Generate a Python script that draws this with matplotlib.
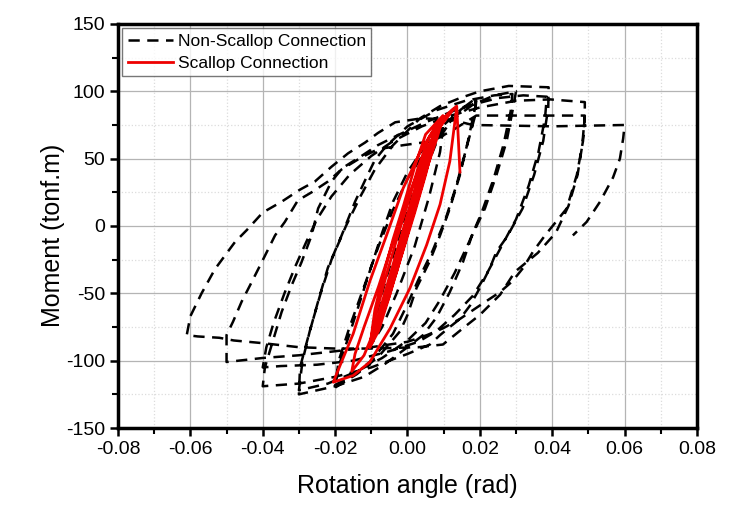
import matplotlib.pyplot as plt
from matplotlib.ticker import MultipleLocator, FormatStrFormatter

plt.rcParams['font.family'] = ['Liberation Sans', 'DejaVu Sans']
plt.rcParams['axes.unicode_minus'] = False

# Non-scallop connection, branch by branch (rotation rad, moment tonf.m)
ns_01_up = [(0.0, 0), (0.004, 35), (0.008, 62), (0.010, 76)]
ns_01_dn = [(0.010, 76), (0.009, 55), (0.006, 22), (0.002, -15), (-0.003, -50), (-0.007, -75), (-0.010, -88)]
ns_02_up1 = [(-0.010, -88), (-0.009, -70), (-0.006, -40), (-0.002, -5), (0.002, 28), (0.007, 58), (0.012, 78),
             (0.016, 89), (0.019, 95)]
ns_02_dn1 = [(0.019, 95), (0.0187, 88), (0.0167, 63), (0.0145, 38), (0.0117, 13), (0.009, -7), (0.006, -27),
             (0.0025, -46), (0.0, -66), (-0.002, -78), (-0.008, -97), (-0.014, -110), (-0.020, -120)]
ns_02_up2 = [(-0.020, -120), (-0.019, -104), (-0.016, -80), (-0.013, -55), (-0.010, -30), (-0.007, -5),
             (-0.004, 18), (0.0, 40), (0.005, 60), (0.010, 75), (0.015, 87), (0.019, 93)]
ns_02_dn2 = [(0.019, 93), (0.0185, 80), (0.016, 55), (0.0135, 30), (0.0105, 5), (0.007, -18), (0.003, -40),
             (0.0, -58), (-0.004, -80), (-0.010, -100), (-0.015, -111), (-0.020, -118)]
ns_03_up1 = [(-0.020, -118), (-0.019, -100), (-0.016, -75), (-0.012, -45), (-0.008, -15), (-0.004, 12),
             (0.0, 35), (0.006, 60), (0.012, 78), (0.018, 90), (0.024, 97), (0.030, 100)]
ns_03_dn1 = [(0.030, 100), (0.0292, 88), (0.0274, 63), (0.0246, 38), (0.0214, 13), (0.0177, -8), (0.0153, -27),
             (0.0117, -49), (0.008, -68), (0.0043, -81), (0.0, -90), (-0.006, -102), (-0.012, -112),
             (-0.020, -119), (-0.030, -125)]
ns_03_up2 = [(-0.030, -125), (-0.0297, -105), (-0.0275, -83), (-0.0247, -56), (-0.022, -31), (-0.0182, -7),
             (-0.0145, 18), (-0.011, 38), (-0.009, 49), (-0.006, 59), (0.0, 74), (0.008, 86), (0.016, 93),
             (0.024, 97), (0.029, 98)]
ns_03_dn2 = [(0.029, 98), (0.0285, 85), (0.0265, 60), (0.0238, 35), (0.0205, 10), (0.017, -12), (0.013, -35),
             (0.009, -55), (0.005, -72), (0.0, -85), (-0.007, -98), (-0.014, -108), (-0.022, -117),
             (-0.030, -122)]
ns_04_up1 = [(-0.030, -122), (-0.029, -100), (-0.027, -78), (-0.024, -50), (-0.021, -25), (-0.017, 0),
             (-0.013, 22), (-0.009, 42), (-0.004, 60), (0.0035, 80), (0.009, 89), (0.0145, 95), (0.020, 100),
             (0.028, 104), (0.039, 103)]
ns_04_dn1 = [(0.039, 103), (0.0389, 88), (0.0375, 63), (0.035, 38), (0.0318, 13), (0.0275, -8), (0.0246, -19),
             (0.0228, -31), (0.020, -46), (0.0173, -59), (0.0145, -69), (0.0117, -75), (0.009, -81),
             (0.0062, -88), (0.0, -95), (-0.010, -105), (-0.020, -112), (-0.030, -117), (-0.040, -119)]
ns_04_up2 = [(-0.040, -119), (-0.0394, -105), (-0.0375, -88), (-0.0348, -64), (-0.032, -44), (-0.0293, -27),
             (-0.0265, -7), (-0.0247, 13), (-0.021, 33), (-0.018, 43), (-0.0127, 52), (-0.0082, 60),
             (-0.003, 67), (0.005, 77), (0.015, 88), (0.025, 95), (0.032, 97), (0.0385, 96)]
ns_04_dn2 = [(0.0385, 96), (0.038, 80), (0.0362, 55), (0.0335, 30), (0.030, 5), (0.026, -15), (0.022, -35),
             (0.018, -52), (0.013, -66), (0.008, -78), (0.003, -86), (-0.005, -93), (-0.015, -100),
             (-0.025, -103), (-0.035, -104), (-0.040, -105)]
ns_05_up1 = [(-0.040, -105), (-0.039, -90), (-0.037, -72), (-0.034, -50), (-0.031, -30), (-0.028, -12),
             (-0.025, 5), (-0.021, 22), (-0.016, 38), (-0.010, 52), (-0.004, 63), (0.004, 74), (0.012, 82),
             (0.020, 88), (0.030, 93), (0.0394, 94), (0.049, 92)]
ns_05_dn1 = [(0.049, 92), (0.049, 82), (0.0485, 63), (0.0468, 38), (0.044, 13), (0.038, -7), (0.0347, -19),
             (0.032, -31), (0.029, -41), (0.0256, -49), (0.020, -59), (0.0145, -69), (0.0098, -76),
             (0.0054, -81), (0.0, -86), (-0.010, -90), (-0.020, -93), (-0.030, -96), (-0.040, -98),
             (-0.050, -101)]
ns_05_up2 = [(-0.050, -101), (-0.050, -81), (-0.0482, -71), (-0.0458, -56), (-0.0435, -44), (-0.0403, -27),
             (-0.0366, -7), (-0.0339, 3), (-0.0303, 19), (-0.0265, 25), (-0.022, 33), (-0.0182, 42),
             (-0.0127, 51), (-0.0082, 57), (-0.0012, 60), (0.007, 63), (0.013, 72), (0.019, 82),
             (0.035, 82), (0.049, 82)]
ns_05_dn2 = [(0.049, 82), (0.0483, 60), (0.047, 38), (0.0445, 15), (0.041, -5), (0.036, -20), (0.0297, -34),
             (0.0256, -51), (0.020, -66), (0.0153, -76), (0.0098, -88), (0.003, -90), (-0.010, -91),
             (-0.020, -91), (-0.030, -90), (-0.040, -87), (-0.048, -85), (-0.052, -83), (-0.058, -82),
             (-0.061, -81)]
ns_06_up = [(-0.061, -81), (-0.060, -67), (-0.0569, -50), (-0.0532, -32), (-0.0477, -12), (-0.0444, -3),
            (-0.040, 10), (-0.0348, 18), (-0.0297, 27), (-0.0256, 33), (-0.021, 44), (-0.0164, 54),
            (-0.0117, 62), (-0.0082, 69), (-0.0034, 77), (0.004, 80), (0.012, 79), (0.018, 75),
            (0.040, 74), (0.060, 75)]
ns_06_dn = [(0.060, 75), (0.0596, 65), (0.0587, 50), (0.0568, 36), (0.0532, 18), (0.0495, 3), (0.0457, -7)]

# Scallop connection
sc_a = [(0.0, 0), (0.002, 18), (0.0038, 33), (0.002, 14), (0.0, -6), (-0.002, -24), (-0.0038, -38),
        (-0.002, -22), (0.0, -2), (0.002, 16), (0.0038, 33)]
sc_b = [(0.0038, 33), (0.005, 44), (0.003, 25), (0.0, -5), (-0.003, -32), (-0.005, -50), (-0.003, -34),
        (0.0, -6), (0.003, 24), (0.005, 44), (0.003, 25), (0.0, -4), (-0.003, -30), (-0.005, -48)]
sc_c = [(-0.005, -48), (-0.003, -32), (0.0, -6), (0.004, 30), (0.0075, 63), (0.005, 42), (0.002, 14),
        (-0.002, -22), (-0.005, -48), (-0.0078, -72), (-0.005, -52), (-0.002, -25), (0.002, 10),
        (0.005, 38), (0.0075, 64), (0.005, 44), (0.001, 8), (-0.003, -30), (-0.0078, -72)]
sc_d = [(-0.0078, -72), (-0.005, -48), (-0.002, -18), (0.001, 10), (0.004, 38), (0.007, 62), (0.0098, 80),
        (0.007, 66), (0.004, 44), (0.001, 16), (-0.002, -10), (-0.005, -38), (-0.008, -66), (-0.0104, -90),
        (-0.008, -78), (-0.005, -52), (-0.002, -22), (0.001, 8), (0.004, 36), (0.007, 60), (0.0098, 80),
        (0.006, 66), (0.003, 44), (0.0, 16), (-0.003, -10), (-0.006, -38), (-0.009, -68), (-0.0105, -90),
        (-0.009, -78), (-0.006, -52), (-0.003, -22), (0.0, 8), (0.003, 36), (0.006, 60), (0.0098, 82),
        (0.005, 68), (0.002, 44), (-0.001, 16), (-0.004, -10), (-0.007, -40), (-0.009, -62), (-0.0104, -90),
        (-0.008, -74), (-0.005, -46), (-0.002, -16), (0.001, 14), (0.004, 42), (0.007, 64), (0.0098, 80)]
sc_e = [(0.0098, 80), (0.008, 64), (0.004, 32), (0.0, -2), (-0.004, -36), (-0.008, -70), (-0.012, -96),
        (-0.0154, -108), (-0.0145, -95), (-0.012, -75), (-0.008, -45), (-0.004, -12), (0.0, 20),
        (0.004, 48), (0.008, 70), (0.0125, 86), (0.0136, 88)]
sc_f = [(0.0136, 88), (0.0117, 48), (0.009, 16), (0.0053, -14), (0.0007, -46), (-0.0048, -76),
        (-0.0104, -101), (-0.015, -111), (-0.0205, -116), (-0.0187, -104), (-0.015, -80), (-0.0104, -41),
        (-0.0058, -7), (-0.0012, 28), (0.0035, 55), (0.008, 75), (0.0122, 86), (0.0136, 89), (0.0145, 40)]

non_scallop = (ns_01_up + ns_01_dn + ns_02_up1 + ns_02_dn1 + ns_02_up2 + ns_02_dn2 + ns_03_up1 + ns_03_dn1
               + ns_03_up2 + ns_03_dn2 + ns_04_up1 + ns_04_dn1 + ns_04_up2 + ns_04_dn2 + ns_05_up1
               + ns_05_dn1 + ns_05_up2 + ns_05_dn2 + ns_06_up + ns_06_dn)
scallop = sc_a + sc_b + sc_c + sc_d + sc_e + sc_f

fig = plt.figure(figsize=(7.36, 5.07), dpi=100)
fig.patch.set_facecolor('white')
ax = fig.add_axes([0.1603, 0.1558, 0.7867, 0.7969])

ax.plot([p[0] for p in non_scallop], [p[1] for p in non_scallop], color='black', lw=1.8,
        dashes=(4.5, 3), label='Non-Scallop Connection', zorder=3)
ax.plot([p[0] for p in scallop], [p[1] for p in scallop], color='#ee0000', lw=2.0,
        label='Scallop Connection', zorder=4)

ax.set_xlim(-0.08, 0.08)
ax.set_ylim(-150, 150)
ax.xaxis.set_major_locator(MultipleLocator(0.02))
ax.xaxis.set_minor_locator(MultipleLocator(0.01))
ax.yaxis.set_major_locator(MultipleLocator(50))
ax.yaxis.set_minor_locator(MultipleLocator(25))
ax.xaxis.set_major_formatter(FormatStrFormatter('%.2f'))

ax.grid(which='major', color='#b4b4b4', lw=0.9)
ax.grid(which='minor', color='#dcdcdc', lw=0.9, ls=':')
ax.set_axisbelow(True)

for s in ax.spines.values():
    s.set_linewidth(2.5)
ax.tick_params(which='major', direction='out', length=6, width=1.8, labelsize=14, pad=3)
ax.tick_params(which='minor', direction='out', length=4, width=1.5)

ax.set_xlabel('Rotation angle (rad)', fontsize=18, labelpad=12)
ax.set_ylabel('Moment (tonf.m)', fontsize=18)
ax.yaxis.set_label_coords(-0.092, 0.478)

leg = ax.legend(loc='upper left', fontsize=12.5, frameon=True, fancybox=False, edgecolor='#555555',
                borderpad=0.3, handlelength=2.6, handletextpad=0.3, labelspacing=0.4,
                borderaxespad=0.25)
leg.get_frame().set_linewidth(1.0)

fig.savefig('out.png', dpi=100)
